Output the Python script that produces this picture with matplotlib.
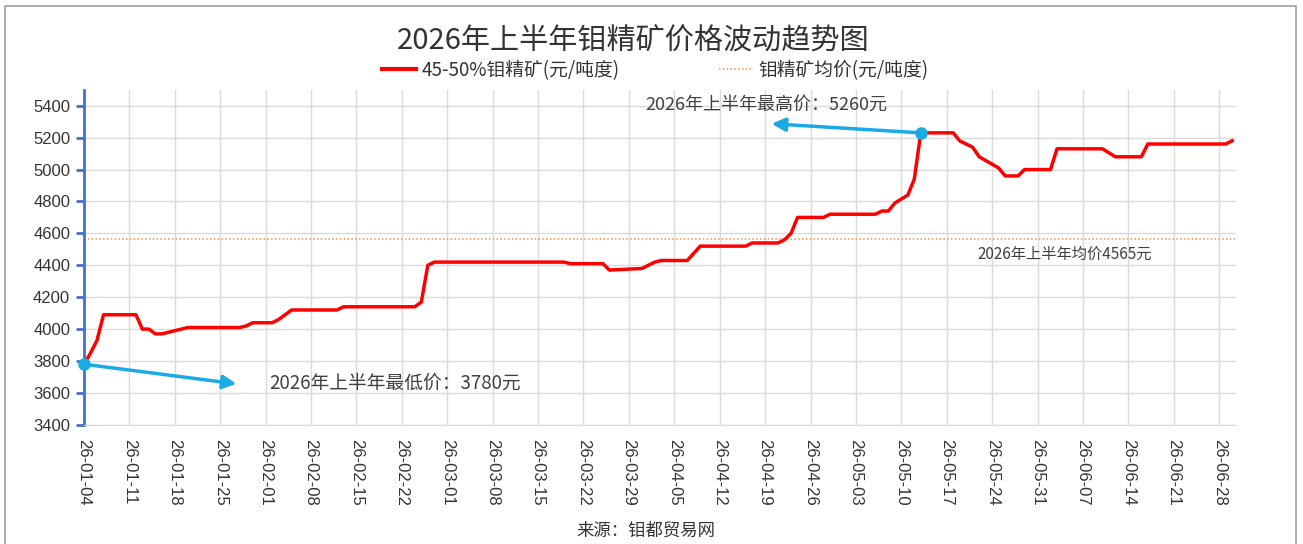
import matplotlib
matplotlib.use("Agg")
import matplotlib.pyplot as plt
import matplotlib.dates as mdates
from matplotlib.lines import Line2D
import pandas as pd

plt.rcParams['font.family'] = ['Noto Sans CJK SC', 'DejaVu Sans']

# breakpoints of the price line
dates = [
    "2026-01-04", "2026-01-05", "2026-01-06", "2026-01-07", "2026-01-12", "2026-01-13",
    "2026-01-14", "2026-01-15", "2026-01-16", "2026-01-20", "2026-01-28", "2026-01-29",
    "2026-01-30", "2026-02-02", "2026-02-03", "2026-02-05", "2026-02-12", "2026-02-13",
    "2026-02-24", "2026-02-25", "2026-02-26", "2026-02-27", "2026-03-19", "2026-03-20",
    "2026-03-25", "2026-03-26", "2026-03-31", "2026-04-02", "2026-04-03", "2026-04-07",
    "2026-04-09", "2026-04-16", "2026-04-17", "2026-04-21", "2026-04-22", "2026-04-23",
    "2026-04-24", "2026-04-28", "2026-04-29", "2026-05-06", "2026-05-07", "2026-05-08",
    "2026-05-09", "2026-05-11", "2026-05-12", "2026-05-13", "2026-05-18", "2026-05-19",
    "2026-05-21", "2026-05-22", "2026-05-25", "2026-05-26", "2026-05-28", "2026-05-29",
    "2026-06-02", "2026-06-03", "2026-06-10", "2026-06-12", "2026-06-16", "2026-06-17",
    "2026-06-29", "2026-06-30",
]
prices = [
    3780, 3850, 3930, 4090, 4090, 4000,
    4000, 3970, 3970, 4010, 4010, 4020,
    4040, 4040, 4060, 4120, 4120, 4140,
    4140, 4170, 4400, 4420, 4420, 4410,
    4410, 4370, 4380, 4420, 4430, 4430,
    4520, 4520, 4540, 4540, 4560, 4600,
    4700, 4700, 4720, 4720, 4740, 4740,
    4790, 4840, 4940, 5230, 5230, 5180,
    5140, 5080, 5010, 4960, 4960, 5000,
    5000, 5130, 5130, 5080, 5080, 5160,
    5160, 5180,
]
avg_price = 4565
max_label = "2026年上半年最高价：5260元"
min_label = "2026年上半年最低价：3780元"
avg_label = "2026年上半年均价4565元"
yticks = list(range(3400, 5401, 200))

d = pd.to_datetime(dates)
start = d[0]

fig = plt.figure(figsize=(13.03, 5.44), dpi=100)
ax = fig.add_axes([0.0645, 0.219, 0.8841, 0.616])

ax.plot(d, prices, color="#FF0000", linewidth=2.5, solid_joinstyle="round",
        label="45-50%钼精矿(元/吨度)", zorder=3)
ax.axhline(avg_price, color="#EE9450", linewidth=1.1, linestyle=(0, (1, 1.5)),
           label="钼精矿均价(元/吨度)", zorder=2)

ax.set_xlim(start, start + pd.Timedelta(days=177.6))
ax.set_ylim(3400, 5500)
ax.set_yticks(yticks)
ticks = pd.date_range(start, "2026-06-28", freq="7D")
ax.set_xticks(ticks)
ax.xaxis.set_major_formatter(mdates.DateFormatter("%y-%m-%d"))
ax.grid(True, color="#DADADA", linewidth=1.0)
ax.set_axisbelow(True)

for s in ["top", "right"]:
    ax.spines[s].set_visible(False)
ax.spines["bottom"].set_color("#DADADA")
ax.spines["left"].set_color("#4472C4")
ax.spines["left"].set_linewidth(2)
ax.tick_params(axis="y", colors="#4472C4", length=6, width=2, pad=4)
ax.tick_params(axis="x", length=0, pad=10)
for lab in ax.get_yticklabels():
    lab.set_color("#333333")
    lab.set_fontfamily("Liberation Sans")
    lab.set_fontsize(12)
for lab in ax.get_xticklabels():
    lab.set_color("#333333")
    lab.set_fontfamily("Liberation Sans")
    lab.set_fontsize(12)
    lab.set_rotation(270)
    lab.set_ha("center")
    lab.set_va("top")

# max / min annotations
imax = prices.index(max(prices))
imin = prices.index(min(prices))
blue = "#1AAAE6"
ax.plot([d[imax]], [prices[imax]], "o", color=blue, markersize=8, zorder=5, clip_on=False)
ax.plot([d[imin]], [prices[imin]], "o", color=blue, markersize=8, zorder=5, clip_on=False)
ax.annotate("", xy=(start + pd.Timedelta(days=106), 5287), xytext=(d[imax], prices[imax]),
            arrowprops=dict(arrowstyle="-|>,head_length=0.8,head_width=0.4", color=blue, lw=2.5,
                            shrinkA=0, shrinkB=0), zorder=4)
ax.annotate("", xy=(start + pd.Timedelta(days=23.5), 3657), xytext=(d[imin], prices[imin]),
            arrowprops=dict(arrowstyle="-|>,head_length=0.8,head_width=0.4", color=blue, lw=2.5,
                            shrinkA=0, shrinkB=0), zorder=4)
ax.text(start + pd.Timedelta(days=86.6), 5406, max_label, fontsize=13, color="#404040",
        ha="left", va="center")
ax.text(start + pd.Timedelta(days=28.6), 3663, min_label, fontsize=13.5, color="#404040",
        ha="left", va="center")
ax.text(start + pd.Timedelta(days=137.7), 4472, avg_label, fontsize=11, color="#404040",
        ha="left", va="center")

fig.text(0.486, 0.925, "2026年上半年钼精矿价格波动趋势图", fontsize=21, color="#333333",
         ha="center", va="center", fontweight="medium")
leg = ax.legend(loc="center", bbox_to_anchor=(0.4956, 1.058), ncol=2, frameon=False,
                fontsize=13.5, handlelength=1.8, handletextpad=0.3, columnspacing=5.3,
                labelcolor="#333333")
leg.get_lines()[0].set_linewidth(3)
fig.text(0.496, 0.025, "来源：钼都贸易网", fontsize=12.5, color="#333333", ha="center", va="center")

# figure border (top, left, right)
fig.add_artist(Line2D([0.004, 0.004, 0.9945, 0.9945], [0.0, 0.989, 0.989, 0.0],
                      transform=fig.transFigure, color="#A0A0A0", linewidth=1.2))

fig.savefig("out.png", dpi=100)
